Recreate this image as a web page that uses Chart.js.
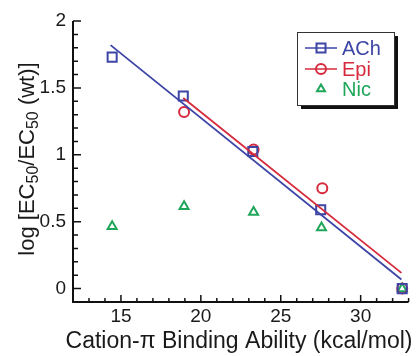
<!DOCTYPE html>
<html lang="en">
<head>
  <meta charset="UTF-8">
  <title>Cation-pi Binding Ability</title>
  <style>
    body { margin: 0; background: #fff; }
    canvas { display: block; }
  </style>
</head>
<body>
  <canvas id="chart" width="417" height="356"></canvas>

  <script src="https://cdn.jsdelivr.net/npm/chart.js"></script>
  <script>
    const seriesNames = ['ACh', 'Epi', 'Nic'];
    const seriesColors = ['#3c45a6', '#d62a3c', '#1fa65a'];

    const achX = [14.45, 18.9, 23.25, 27.5, 32.6];
    const achY = [1.73, 1.44, 1.025, 0.59, 0];
    const epiX = [18.95, 23.3, 27.6, 32.6];
    const epiY = [1.32, 1.04, 0.75, 0];
    const nicX = [14.45, 18.95, 23.3, 27.55, 32.6];
    const nicY = [0.465, 0.615, 0.572, 0.455, 0];

    // fitted lines at their ends
    const achFitX = [14.35, 32.55];
    const achFitY = [1.82, 0.068];
    const epiFitX = [18.9, 32.55];
    const epiFitY = [1.425, 0.118];

    const xMajorTicks = [15, 20, 25, 30];
    const xMinorTicks = [13, 14, 16, 17, 18, 19, 21, 22, 23, 24, 26, 27, 28, 29, 31, 32, 33];
    const yMajorTicks = [0, 0.5, 1, 1.5, 2];
    const yTickLabels = ['0', '0.5', '1', '1.5', '2'];
    const yMinorTicks = [-0.1, 0.1, 0.2, 0.3, 0.4, 0.6, 0.7, 0.8, 0.9, 1.1, 1.2, 1.3, 1.4, 1.6, 1.7, 1.8, 1.9];

    const pts = (xs, ys) => xs.map((x, i) => ({ x, y: ys[i] }));
    const FONT = '"Liberation Sans", Arial, sans-serif';
    const TEXT = '#1a1a1a';

    function marker(ctx, style, x, y, color) {
      ctx.save();
      ctx.strokeStyle = color;
      ctx.lineWidth = 2;
      ctx.beginPath();
      if (style === 'rect') ctx.rect(x - 4.5, y - 4.5, 9, 9);
      else if (style === 'circle') ctx.arc(x, y, 5, 0, Math.PI * 2);
      else {
        ctx.moveTo(x, y - 4.6);
        ctx.lineTo(x + 4, y + 2.3);
        ctx.lineTo(x - 4, y + 2.3);
        ctx.closePath();
      }
      ctx.stroke();
      ctx.restore();
    }

    const axesPlugin = {
      id: 'axes',
      afterDraw(chart) {
        const { ctx, chartArea: a, scales: { x, y } } = chart;
        ctx.save();
        ctx.strokeStyle = '#111';
        ctx.lineWidth = 2;
        ctx.beginPath();
        ctx.moveTo(a.left, y.getPixelForValue(2));
        ctx.lineTo(a.left, a.bottom);
        ctx.lineTo(a.right, a.bottom);
        ctx.stroke();

        ctx.lineWidth = 1.5;
        ctx.beginPath();
        yMinorTicks.forEach(v => { const p = y.getPixelForValue(v); ctx.moveTo(a.left, p); ctx.lineTo(a.left + 5, p); });
        yMajorTicks.forEach(v => { const p = y.getPixelForValue(v); ctx.moveTo(a.left, p); ctx.lineTo(a.left + 8, p); });
        xMinorTicks.forEach(v => { const p = x.getPixelForValue(v); ctx.moveTo(p, a.bottom); ctx.lineTo(p, a.bottom - 4); });
        xMajorTicks.forEach(v => { const p = x.getPixelForValue(v); ctx.moveTo(p, a.bottom); ctx.lineTo(p, a.bottom - 7); });
        ctx.stroke();

        ctx.fillStyle = TEXT;
        ctx.font = '19px ' + FONT;
        ctx.textAlign = 'right';
        ctx.textBaseline = 'middle';
        yMajorTicks.forEach((v, i) => ctx.fillText(yTickLabels[i], a.left - 7, y.getPixelForValue(v)));
        ctx.textAlign = 'center';
        ctx.textBaseline = 'top';
        xMajorTicks.forEach(v => ctx.fillText(String(v), x.getPixelForValue(v), a.bottom + 5));

        // x title
        ctx.font = '23px ' + FONT;
        ctx.textBaseline = 'middle';
        ctx.fillText('Cation-\u03c0 Binding Ability (kcal/mol)', 239, 342);

        // y title with subscripts
        ctx.save();
        ctx.translate(26, 159);
        ctx.rotate(-Math.PI / 2);
        const parts = [['log [EC', 0], ['50', 1], ['/EC', 0], ['50', 1], [' (wt)]', 0]];
        const big = '22px ' + FONT, small = '16px ' + FONT;
        let total = 0;
        parts.forEach(([t, s]) => { ctx.font = s ? small : big; total += ctx.measureText(t).width; });
        let cx = -total / 2;
        ctx.textAlign = 'left';
        ctx.textBaseline = 'alphabetic';
        parts.forEach(([t, s]) => {
          ctx.font = s ? small : big;
          ctx.fillText(t, cx, s ? 12 : 8);
          cx += ctx.measureText(t).width;
        });
        ctx.restore();

        // legend box with shadow
        const bx = 297, by = 32, bw = 97, bh = 73;
        ctx.fillStyle = '#111';
        ctx.fillRect(bx + 4, by + 4, bw, bh);
        ctx.fillStyle = '#fff';
        ctx.fillRect(bx, by, bw, bh);
        ctx.strokeStyle = '#333';
        ctx.lineWidth = 1;
        ctx.strokeRect(bx + 0.5, by + 0.5, bw, bh);

        const styles = ['rect', 'circle', 'triangle'];
        const rows = [48, 69, 89];
        ctx.font = '20px ' + FONT;
        ctx.textAlign = 'left';
        ctx.textBaseline = 'middle';
        seriesNames.forEach((name, i) => {
          const ry = rows[i];
          if (i < 2) {
            ctx.strokeStyle = seriesColors[i];
            ctx.lineWidth = 1.5;
            ctx.beginPath();
            ctx.moveTo(305, ry);
            ctx.lineTo(337, ry);
            ctx.stroke();
          }
          marker(ctx, styles[i], 321, ry, seriesColors[i]);
          ctx.fillStyle = seriesColors[i];
          ctx.fillText(name, 342, ry + 1);
        });
        ctx.restore();
      }
    };

    const pointSet = (label, data, color, style, radius) => ({
      label, data, type: 'scatter', showLine: false, clip: false,
      pointStyle: style, pointRadius: radius, pointHoverRadius: radius,
      borderColor: color, backgroundColor: 'rgba(0,0,0,0)', pointBorderWidth: 2
    });
    const fitSet = (data, color) => ({
      label: '', data, type: 'line', showLine: true, pointRadius: 0,
      borderColor: color, borderWidth: 1.8, fill: false, tension: 0
    });

    new Chart(document.getElementById('chart'), {
      type: 'scatter',
      data: {
        datasets: [
          fitSet(pts(achFitX, achFitY), seriesColors[0]),
          fitSet(pts(epiFitX, epiFitY), seriesColors[1]),
          pointSet(seriesNames[0], pts(achX, achY), seriesColors[0], 'rect', 6.4),
          pointSet(seriesNames[1], pts(epiX, epiY), seriesColors[1], 'circle', 5),
          pointSet(seriesNames[2], pts(nicX, nicY), seriesColors[2], 'triangle', 5.2)
        ]
      },
      options: {
        responsive: false,
        animation: false,
        layout: { padding: { left: 73, right: 4, top: 21, bottom: 54 } },
        plugins: { legend: { display: false }, tooltip: { enabled: false } },
        scales: {
          x: { type: 'linear', min: 12, max: 33, display: false },
          y: { type: 'linear', min: -0.1, max: 2, display: false }
        }
      },
      plugins: [axesPlugin]
    });
  </script>
</body>
</html>
